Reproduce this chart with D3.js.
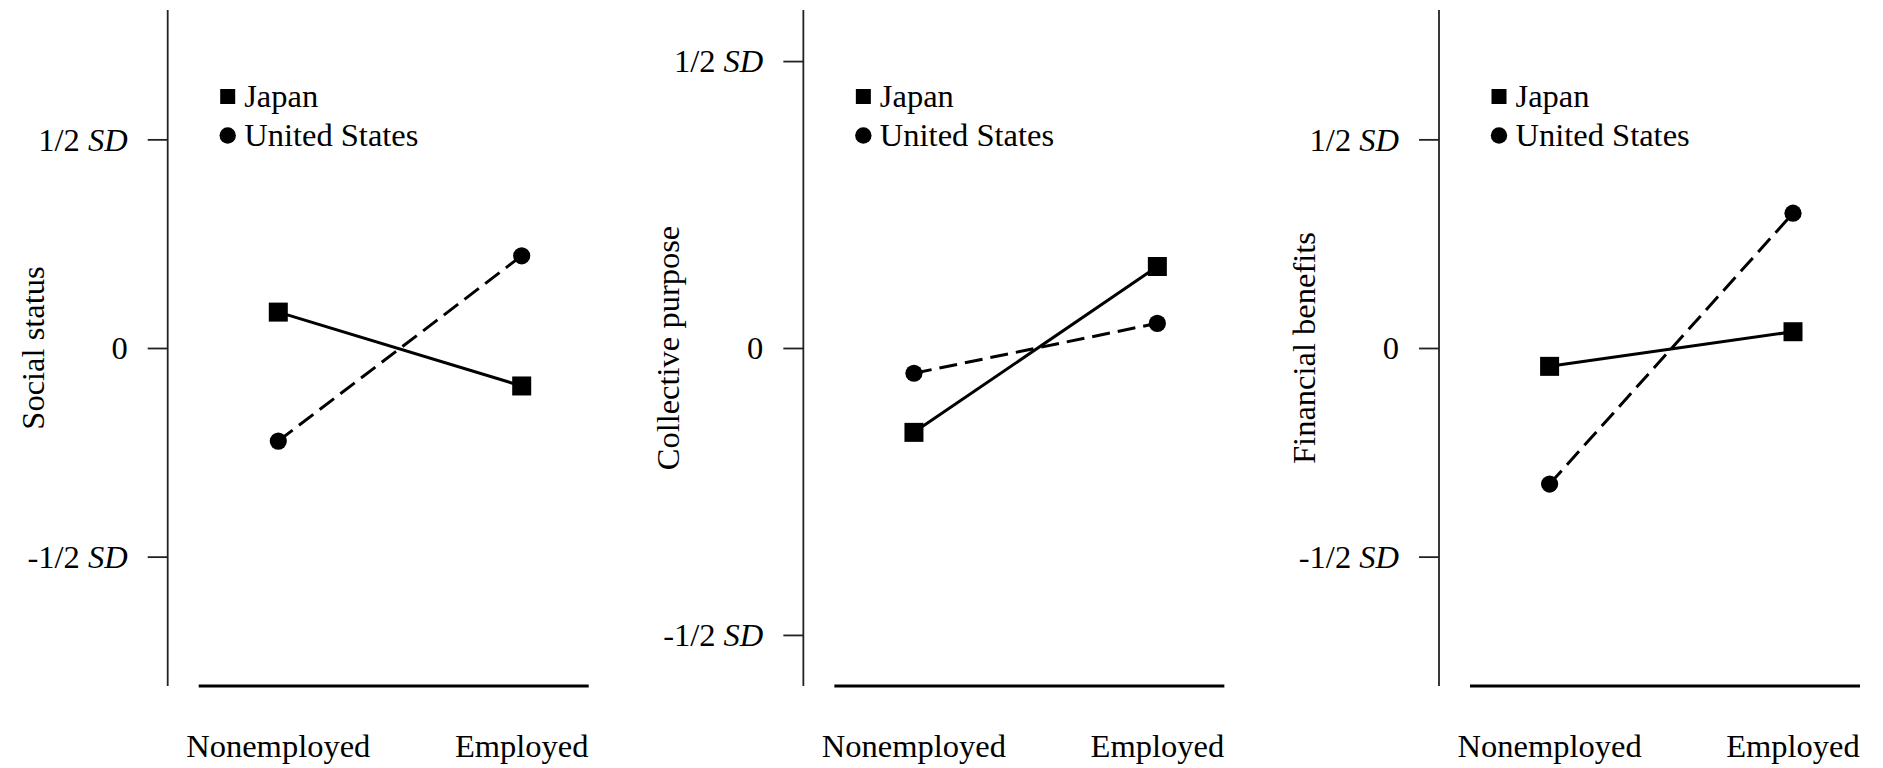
<!DOCTYPE html>
<html>
<head>
<meta charset="utf-8">
<script src="https://cdn.jsdelivr.net/npm/d3@7"></script>
<style>
  body { margin: 0; background: #fff; }
</style>
</head>
<body>
<svg width="1883" height="768"></svg>
<script>
// Data
// ----
var groups = ['Nonemployed', 'Employed'];
var countries = ['Japan', 'United States'];
var panelTitles = ['Social status', 'Collective purpose', 'Financial benefits'];
var japan = [[0.086, -0.091], [-0.147, 0.142], [-0.044, 0.039]];
var unitedStates = [[-0.223, 0.221], [-0.044, 0.043], [-0.326, 0.323]];
var yDomains = [[-0.81, 0.81], [-0.589, 0.589], [-0.81, 0.81]];
var yTicks = [-0.5, 0, 0.5];
var tickLabels = {'-0.5': '-1/2', '0': '0', '0.5': '1/2'};

var serif = "'Times New Roman', Times, Tinos, 'Noto Serif', FreeSerif, 'Nimbus Roman', 'Nimbus Roman No9 L', 'Liberation Serif', 'DejaVu Serif', serif";
var svg = d3.select('svg');

var axisX = 167.7, panelStep = 635.65;
var yTop = 10, yBottom = 686;

panelTitles.forEach(function (title, i) {
  var g = svg.append('g')
    .attr('transform', 'translate(' + (axisX + i * panelStep) + ',0)');

  var x = d3.scalePoint().domain(groups).range([110.6, 354]);
  var y = d3.scaleLinear().domain(yDomains[i]).range([yBottom, yTop]);

  // y axis
  var yAxis = d3.axisLeft(y).tickValues(yTicks).tickSize(20).tickFormat('');
  var ya = g.append('g').call(yAxis)
    .attr('font-family', null).attr('font-size', null);
  ya.select('.domain').attr('d', 'M0,' + yTop + 'V' + yBottom)
    .attr('stroke', '#222').attr('stroke-width', 1.8);
  ya.selectAll('.tick line').attr('stroke', '#222').attr('stroke-width', 1.8);

  var lab = ya.selectAll('.tick').append('text')
    .attr('x', -40).attr('dy', '0.33em')
    .attr('text-anchor', 'end')
    .attr('fill', '#000')
    .style('font-family', serif)
    .style('font-size', '32.5px');
  lab.each(function (d) {
    var t = d3.select(this);
    t.append('tspan').text(tickLabels[String(d)]);
    if (d !== 0) {
      t.append('tspan').text(' SD').style('font-style', 'italic');
    }
  });

  // bottom line
  g.append('line')
    .attr('x1', 31).attr('x2', 421)
    .attr('y1', yBottom).attr('y2', yBottom)
    .attr('stroke', '#000').attr('stroke-width', 2.8);

  // x labels
  g.selectAll('.xlab').data(groups).enter().append('text')
    .attr('x', function (d) { return x(d); })
    .attr('y', 756.5)
    .attr('text-anchor', 'middle')
    .style('font-family', serif)
    .style('font-size', '32.5px')
    .text(function (d) { return d; });

  // y title
  g.append('text')
    .attr('transform', 'translate(-124,348) rotate(-90)')
    .attr('text-anchor', 'middle')
    .style('font-family', serif)
    .style('font-size', '32.5px')
    .text(title);

  // lines
  var line = d3.line()
    .x(function (d, j) { return x(groups[j]); })
    .y(function (d) { return y(d); });

  g.append('path').datum(unitedStates[i])
    .attr('d', line).attr('fill', 'none')
    .attr('stroke', '#000').attr('stroke-width', 3)
    .attr('stroke-dasharray', '18,8');
  g.append('path').datum(japan[i])
    .attr('d', line).attr('fill', 'none')
    .attr('stroke', '#000').attr('stroke-width', 3);

  g.selectAll('.sq').data(japan[i]).enter().append('path')
    .attr('d', d3.symbol().type(d3.symbolSquare).size(361))
    .attr('transform', function (d, j) { return 'translate(' + x(groups[j]) + ',' + y(d) + ')'; })
    .attr('fill', '#000');
  g.selectAll('.ci').data(unitedStates[i]).enter().append('circle')
    .attr('cx', function (d, j) { return x(groups[j]); })
    .attr('cy', function (d) { return y(d); })
    .attr('r', 8.6)
    .attr('fill', '#000');

  // legend
  var leg = g.append('g').attr('transform', 'translate(60,0)');
  leg.append('rect').attr('x', -7.5).attr('y', 96.5 - 7.5)
    .attr('width', 15).attr('height', 15).attr('fill', '#000');
  leg.append('circle').attr('cx', 0).attr('cy', 135.5).attr('r', 8.2).attr('fill', '#000');
  leg.selectAll('.lt').data(countries).enter().append('text')
    .attr('x', 16.5)
    .attr('y', function (d, j) { return j === 0 ? 96.5 : 135.5; })
    .attr('dy', '0.33em')
    .style('font-family', serif)
    .style('font-size', '32.5px')
    .text(function (d) { return d; });
});
</script>
</body>
</html>
